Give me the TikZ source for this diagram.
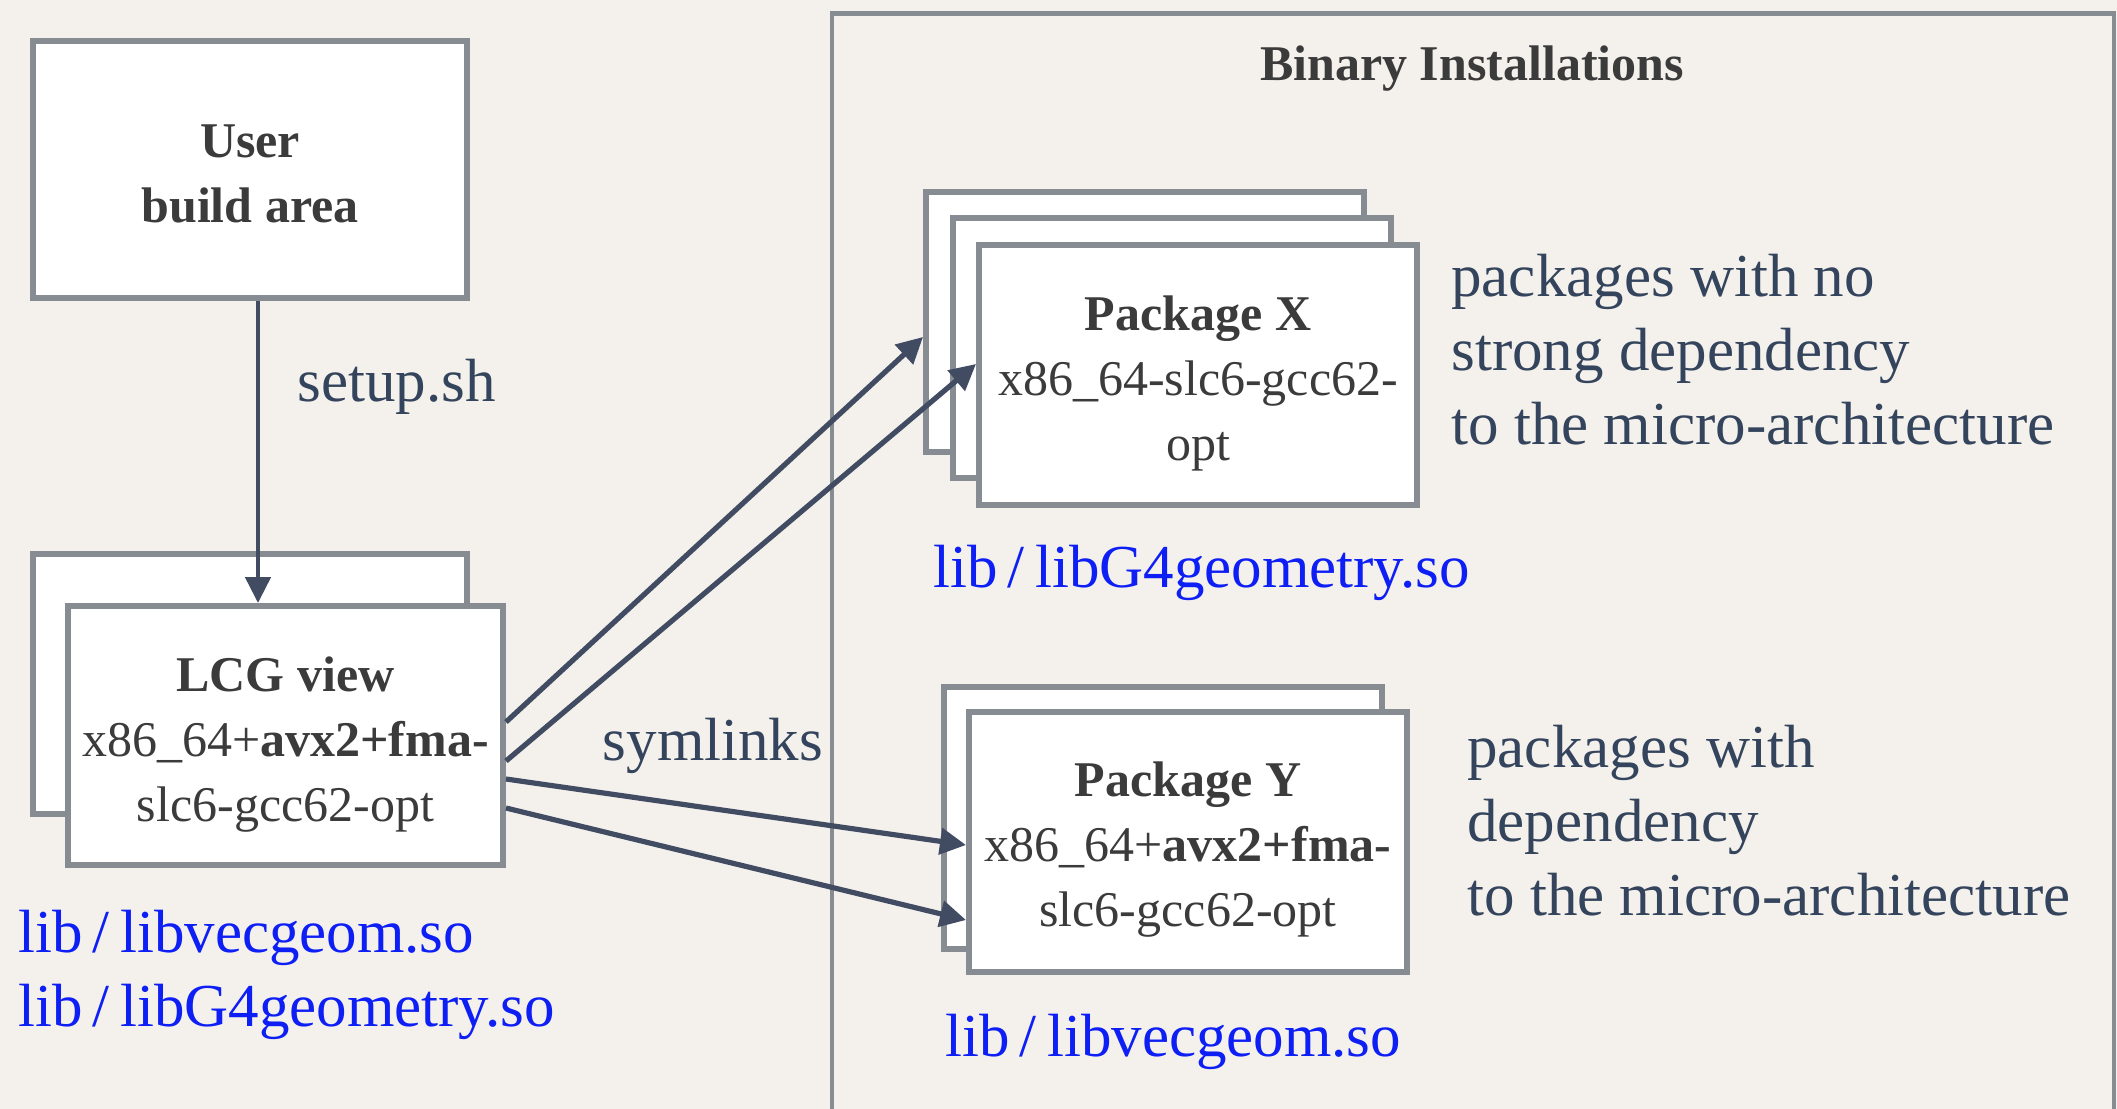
\documentclass[tikz,border=0pt]{standalone}
\usepackage{fontspec}
\setmainfont{Liberation Serif}
\usetikzlibrary{arrows.meta,calc}

\definecolor{paper}{HTML}{F4F1EC}
\definecolor{frame}{HTML}{878B92}
\definecolor{ink}{HTML}{3B3B3B}
\definecolor{slate}{HTML}{34445C}
\definecolor{arrowc}{HTML}{414C63}
\definecolor{libblue}{HTML}{0D1FF5}

\newcommand\bxfont{\fontsize{25}{32.5}\selectfont}
\newcommand\lbfont{\fontsize{30.5}{37}\selectfont}

\begin{document}
\begin{tikzpicture}[x=0.5pt,y=-0.5pt,
  box/.style={draw=frame, line width=3pt, fill=white, inner sep=0pt,
    minimum width=219pt, minimum height=130pt},
  boxtext/.style={align=center, text=ink, font=\bxfont, inner sep=0pt},
  note/.style={text=slate, font=\lbfont, inner sep=0pt, align=left},
  libtext/.style={text=libblue, font=\lbfont, inner sep=0pt, anchor=west},
  link/.style={draw=arrowc, line width=2.6pt,
    -{Triangle[length=13pt,width=13pt]}},
  feed/.style={draw=arrowc, line width=2.4pt,
    -{Triangle[length=13pt,width=12.5pt]}}]

% page and background
\fill[paper] (0,0) rectangle (2117,1109);
\useasboundingbox (0,0) rectangle (2117,1109);

% container of the binary installations
\draw[frame, line width=2.2pt] (832,1120) |- (2114,13.5) -- (2114,1120);
\node[boxtext, font=\bxfont\bfseries] (bintitle) at (1472,69) {Binary Installations};

% user build area
\node[box, minimum width=217pt, minimum height=128.5pt] (user) at (250,169.5) {};
\node[boxtext, font=\bxfont\bfseries] (usertext) at (250,174) {User\\build area};

% LCG view stack
\node[box, minimum width=217pt, minimum height=130pt] (lcgback) at (250,684) {};
\node[box, minimum width=217.5pt, minimum height=129.5pt] (lcg) at (285.5,735.5) {};
\node[boxtext] (lcgtext) at (285.5,745)
  {{\bfseries LCG view}\\x86\_64+{\bfseries avx2+fma-}\\slc6-gcc62-opt};

% package X stack
\node[box] (x1) at (1145,321.5) {};
\node[box] (x2) at (1171.5,348) {};
\node[box] (x3) at (1198,374.5) {};
\node[boxtext] (x3text) at (1198,383)
  {{\bfseries Package X}\\x86\_64-slc6-gcc62-\\opt};

% package Y stack
\node[box, minimum height=131pt] (y1) at (1163,818) {};
\node[box] (y2) at (1188,842) {};
\node[boxtext] (y2text) at (1188,850)
  {{\bfseries Package Y}\\x86\_64+{\bfseries avx2+fma-}\\slc6-gcc62-opt};

% setup arrow
\coordinate (sx) at (258,0);
\draw[feed] (user.south -| sx) -- (lcg.north -| sx);
\node[note, anchor=west] (setup) at (297,387) {setup.sh};

% symlinks
\draw[link] ($(lcg.east)+(0,-13.5)$) -- ($(x1.west)+(0,15.5)$);
\draw[link] ($(lcg.east)+(0,25.5)$) -- ($(x3.west)+(0,-10.5)$);
\draw[link] ($(lcg.east)+(0,43.5)$) -- ($(y2.west)+(0,3)$);
\draw[link] ($(lcg.east)+(0,72.5)$) -- ($(y2.west)+(0,78)$);
\node[note] (symlinks) at (713,746) {symlinks};

% descriptions
\node[note, anchor=west] (nodep) at (1451,350)
  {packages with no\\strong dependency\\to the micro-architecture};
\node[note, anchor=west] (dep) at (1467,821)
  {packages with\\dependency\\to the micro-architecture};

% library files
\node[libtext] (lvec) at (18,938) {lib\,/\,libvecgeom.so};
\node[libtext] (lg4) at (18,1012) {lib\,/\,libG4geometry.so};
\node[libtext] (xg4) at (933,573) {lib\,/\,libG4geometry.so};
\node[libtext] (yvec) at (945,1042) {lib\,/\,libvecgeom.so};
\end{tikzpicture}
\end{document}
